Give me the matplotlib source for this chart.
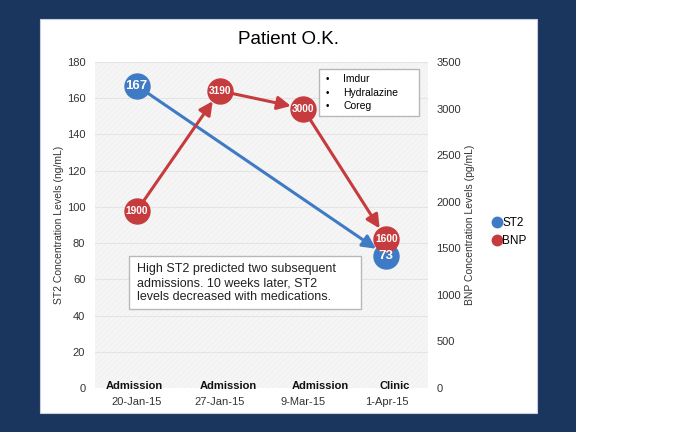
import matplotlib
matplotlib.use("Agg")
import matplotlib.pyplot as plt
from matplotlib.patches import Rectangle
from matplotlib.lines import Line2D

plt.rcParams['font.family'] = ['Liberation Sans', 'DejaVu Sans']
plt.rcParams['hatch.linewidth'] = 0.4

# Daten
visits = ["Admission", "Admission", "Admission", "Clinic"]
dates = ["20-Jan-15", "27-Jan-15", "9-Mar-15", "1-Apr-15"]
st2_idx = [0, 3]
st2_values = [167, 73]
bnp_idx = [0, 1, 2, 3]
bnp_values = [1900, 3190, 3000, 1600]
meds = ["Imdur", "Hydralazine", "Coreg"]
note = ("High ST2 predicted two subsequent\n"
        "admissions. 10 weeks later, ST2\n"
        "levels decreased with medications.")

blue = '#3f7bc4'
red = '#c63c3e'
navy = '#1b365e'
W, H = 697, 432


def fx(px):
    return px / W


def fy(py):
    return 1 - py / H


fig = plt.figure(figsize=(6.97, 4.32), dpi=100)
fig.patch.set_facecolor('white')
fig.patches.append(Rectangle((0, 0), fx(576), 1, transform=fig.transFigure,
                             facecolor=navy, edgecolor='none', zorder=-10))
fig.patches.append(Rectangle((fx(40), fy(413)), fx(537 - 40), fy(19) - fy(413),
                             transform=fig.transFigure, facecolor='white',
                             edgecolor='#c8d0dc', lw=0.8, zorder=-9))

ax = fig.add_axes([fx(95), fy(388), fx(428 - 95), fy(62) - fy(388)])
ax.set_facecolor('#f5f5f5')
ax.add_patch(Rectangle((0, 0), 1, 1, transform=ax.transAxes, facecolor='none',
                       edgecolor='#eeeeee', hatch='//////', lw=0, zorder=0))
ax2 = ax.twinx()

ax.set_xlim(-0.5, 3.5)
ax.set_ylim(0, 180)
ax.set_yticks(range(0, 181, 20))
ax2.set_ylim(0, 3500)
ax2.set_yticks(range(0, 3501, 500))
ax.yaxis.grid(True, color='#e4e4e4', lw=0.8)
ax.set_axisbelow(True)
ax.set_xticks([])
for a in (ax, ax2):
    for s in a.spines.values():
        s.set_visible(False)
    a.tick_params(axis='y', length=0, labelsize=8, labelcolor='#333333')
ax.tick_params(axis='y', pad=7)
ax2.tick_params(axis='y', pad=6)

ax.set_ylabel('ST2 Concentration Levels (ng/mL)', fontsize=7.5, color='#333333', labelpad=2)
ax2.set_ylabel('BNP Concentration Levels (pg/mL)', fontsize=7.5, color='#333333', labelpad=3)

# ST2 Linie mit Pfeil
ax.annotate('', xy=(st2_idx[1], st2_values[1]), xytext=(st2_idx[0], st2_values[0]),
            arrowprops=dict(arrowstyle='-|>', color=blue, lw=2.2, mutation_scale=20,
                            shrinkA=0, shrinkB=9), zorder=2)
ax.plot(st2_idx, st2_values, 'o', color=blue, ms=18, zorder=3)

# BNP Linie mit Pfeilen
for i in range(len(bnp_values) - 1):
    ax2.annotate('', xy=(bnp_idx[i + 1], bnp_values[i + 1]),
                 xytext=(bnp_idx[i], bnp_values[i]),
                 arrowprops=dict(arrowstyle='-|>', color=red, lw=2.2, mutation_scale=20,
                                 shrinkA=0, shrinkB=9), zorder=2)
ax2.plot(bnp_idx, bnp_values, 'o', color=red, ms=18, zorder=3)

# Datenbeschriftungen ganz oben
for x, v in zip(bnp_idx, bnp_values):
    ax2.text(x, v, str(v), color='white', fontsize=7.3, fontweight='bold',
             ha='center', va='center', zorder=4)
for x, v in zip(st2_idx, st2_values):
    ax2.text(x, v, str(v), transform=ax.transData, color='white', fontsize=9.5,
             fontweight='bold', ha='center', va='center', zorder=5)

# x-Beschriftung
nudge = [-1.4, 5.8, 12.2, 6.1]
for i, (v, d) in enumerate(zip(visits, dates)):
    ax.annotate(v, xy=(i, 0), xycoords=('data', 'axes fraction'),
                xytext=(nudge[i], 1.5), textcoords='offset points',
                ha='center', va='center', fontsize=8, fontweight='bold', color='#111111',
                annotation_clip=False)
    ax.annotate(d, xy=(i, 0), xycoords=('data', 'axes fraction'),
                xytext=(0, -10), textcoords='offset points',
                ha='center', va='center', fontsize=8, color='#333333',
                annotation_clip=False)

fig.text(fx(288), fy(40), 'Patient O.K.', fontsize=13.5, ha='center', va='center')

# Medikamente
fig.patches.append(Rectangle((fx(320), fy(117)), fx(100), fy(70) - fy(117),
                             transform=fig.transFigure, facecolor='#d0d0d0',
                             edgecolor='none', zorder=4))
fig.patches.append(Rectangle((fx(319), fy(116)), fx(100), fy(69) - fy(116),
                             transform=fig.transFigure, facecolor='white',
                             edgecolor='#b8b8b8', lw=1, zorder=5))
for k, m in enumerate(meds):
    y = fy(79 + 13.5 * k)
    fig.text(fx(327), y, '\u2022', fontsize=7, ha='center', va='center', zorder=6)
    fig.text(fx(343), y, m, fontsize=7.5, ha='left', va='center', zorder=6)

# Kommentar
fig.patches.append(Rectangle((fx(130), fy(310)), fx(361 - 129), fy(256) - fy(309),
                             transform=fig.transFigure, facecolor='#d0d0d0',
                             edgecolor='none', zorder=4))
fig.patches.append(Rectangle((fx(129), fy(309)), fx(361 - 129), fy(256) - fy(309),
                             transform=fig.transFigure, facecolor='white',
                             edgecolor='#b8b8b8', lw=1, zorder=5))
fig.text(fx(137), fy(283), note, fontsize=9, ha='left', va='center',
         linespacing=1.25, color='#222222', zorder=6)

handles = [Line2D([], [], marker='o', ls='', color=blue, ms=7.5),
           Line2D([], [], marker='o', ls='', color=red, ms=7.5)]
fig.legend(handles, ['ST2', 'BNP'], loc='center left', bbox_to_anchor=(fx(493), fy(232)),
           frameon=False, fontsize=8.5, handlelength=0.7, handletextpad=0.1,
           labelspacing=0.45, borderpad=0, borderaxespad=0)

fig.savefig('out.png', dpi=100)
